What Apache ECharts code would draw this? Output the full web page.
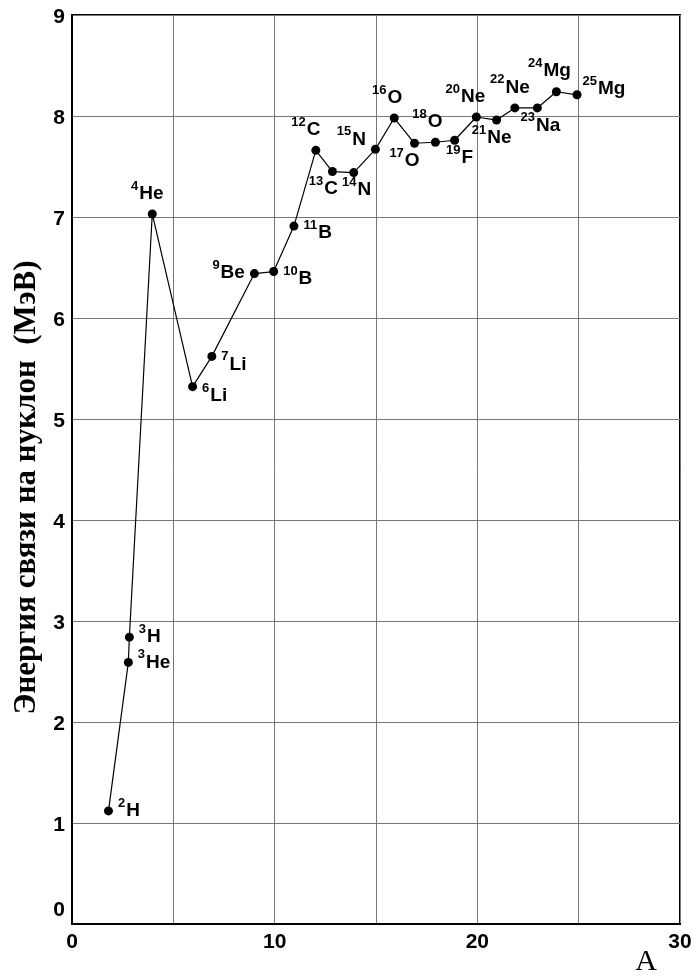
<!DOCTYPE html>
<html>
<head>
<meta charset="utf-8">
<script src="https://cdn.jsdelivr.net/npm/echarts@6/dist/echarts.min.js"></script>
<style>
  html, body { margin: 0; padding: 0; background: #fff; }
  #chart { width: 697px; height: 976px; }
</style>
</head>
<body>
<div id="chart"></div>
<script>
// нуклиды в порядке соединения линией
var massNumbers = [2, 3, 3, 4, 6, 7, 9, 10, 11, 12, 13, 14, 15, 16, 17, 18, 19, 20, 21, 22, 23, 24, 25];
var elements = ['H', 'He', 'H', 'He', 'Li', 'Li', 'Be', 'B', 'B', 'C', 'C', 'N', 'N', 'O', 'O', 'O', 'F', 'Ne', 'Ne', 'Ne', 'Na', 'Mg', 'Mg'];
// A, как нанесено на рисунке
var aValues = [1.8, 2.78, 2.83, 3.96, 5.95, 6.9, 9.0, 9.95, 10.95, 12.03, 12.85, 13.9, 14.97, 15.9, 16.9, 17.93, 18.88, 19.95, 20.95, 21.85, 22.96, 23.9, 24.92];
// энергия связи на нуклон, МэВ
var bindingEnergy = [1.12, 2.59, 2.84, 7.03, 5.32, 5.62, 6.44, 6.46, 6.91, 7.66, 7.45, 7.44, 7.67, 7.98, 7.73, 7.74, 7.76, 7.99, 7.96, 8.08, 8.08, 8.24, 8.21];
var xTicks = [0, 10, 20, 30];

// где стоит подпись у каждой точки
var labelSpots = [
  ['right', 0, 0], ['right', 0, 0], ['right', 0, 0], ['top', -5, 0],
  ['right', 0, 9], ['right', 0, 8], ['left', 0, -1], ['right', 0, 7], ['right', 0, 7],
  ['top', -10, 0], ['bottom', -9, 0], ['bottom', 3, 0], ['left', 0, -10],
  ['top', -7, 0], ['bottom', -10, 0], ['top', -8, 0], ['bottom', 5, 0],
  ['top', -11, 0], ['bottom', -5, 0], ['top', -5, 0], ['bottom', 3, 0],
  ['top', -7, 0], ['right', -4, -6]
];

var pts = [];
for (var i = 0; i < aValues.length; i++) {
  var spot = labelSpots[i];
  var dy = spot[2];
  if (spot[0] === 'top') dy += 3;
  if (spot[0] === 'bottom') dy -= 6;
  pts.push({
    value: [aValues[i], bindingEnergy[i]],
    label: {
      position: spot[0],
      offset: [spot[1], dy],
      formatter: '{s|' + massNumbers[i] + '}{e|' + elements[i] + '}'
    }
  });
}

var font = 'Liberation Sans, Arial, sans-serif';
var serif = 'Liberation Serif, Times New Roman, serif';

var option = {
  animation: false,
  backgroundColor: '#fff',
  grid: {
    left: 72, right: 17, top: 15, bottom: 52,
    outerBoundsMode: 'none',
    show: true, borderColor: '#000', borderWidth: 2
  },
  xAxis: {
    type: 'value', min: 0, max: 30, interval: 5,
    axisLine: { show: true, lineStyle: { color: '#000', width: 2 } },
    axisTick: { show: false },
    splitLine: { show: true, lineStyle: { color: '#777', width: 1 } },
    axisLabel: {
      margin: 8, color: '#000', fontFamily: font, fontWeight: 'bold', fontSize: 21,
      formatter: function (v) { return xTicks.indexOf(v) >= 0 ? v : ''; }
    }
  },
  yAxis: {
    type: 'value', min: 0, max: 9, interval: 1,
    name: 'Энергия связи на нуклон  (МэВ)',
    nameLocation: 'middle', nameGap: 29,
    nameTextStyle: {
      fontFamily: serif, fontWeight: 'bold', fontSize: 31, color: '#000',
      padding: [0, 36, 0, 0]
    },
    axisLine: { show: true, lineStyle: { color: '#000', width: 2 } },
    axisTick: { show: false },
    splitLine: { show: true, lineStyle: { color: '#777', width: 1 } },
    axisLabel: {
      margin: 7, color: '#000', fontFamily: font, fontWeight: 'bold', fontSize: 21,
      padding: [5, 0, 0, 0],
      formatter: function (v) { return v === 0 ? '{z|0}' : v; },
      rich: { z: { fontFamily: font, fontWeight: 'bold', fontSize: 21, color: '#000', padding: [0, 0, 33, 0] } }
    }
  },
  graphic: [{
    type: 'text', right: 40, bottom: -1,
    style: { text: 'A', fontFamily: serif, fontSize: 30, fill: '#000' }
  }],
  series: [{
    type: 'line',
    data: pts,
    symbol: 'circle', symbolSize: 9,
    itemStyle: { color: '#000' },
    lineStyle: { color: '#000', width: 1.2 },
    label: {
      show: true, distance: 5, color: '#000',
      rich: {
        s: { fontFamily: font, fontWeight: 'bold', fontSize: 13, lineHeight: 13, verticalAlign: 'top', color: '#000', padding: [0, 1, 0, 0] },
        e: { fontFamily: font, fontWeight: 'bold', fontSize: 19, lineHeight: 28, verticalAlign: 'middle', color: '#000' }
      }
    }
  }]
};

var myChart = echarts.init(document.getElementById('chart'));
myChart.setOption(option);
</script>
</body>
</html>
